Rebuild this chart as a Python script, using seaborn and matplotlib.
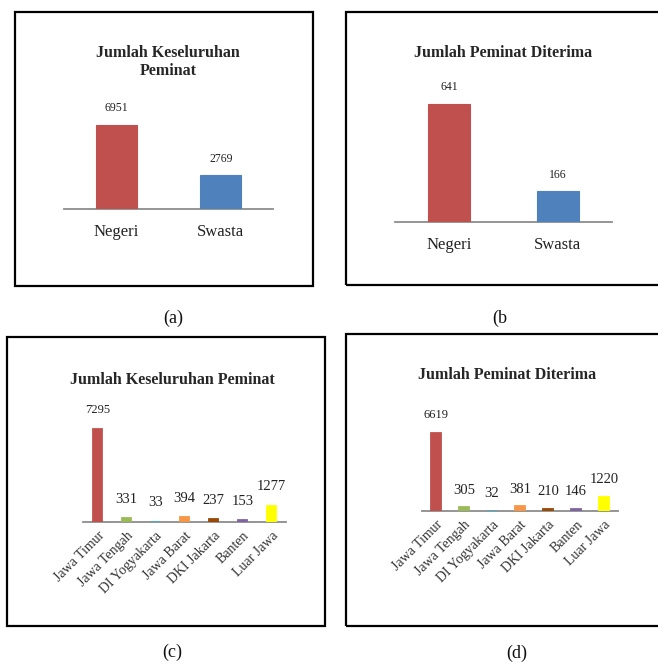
import matplotlib
matplotlib.use("Agg")
import matplotlib.pyplot as plt
from matplotlib.patches import Rectangle
import seaborn as sns

sns.set_theme(style="white")
plt.rcParams["font.family"] = ["Liberation Serif", "DejaVu Serif"]

# ---- data -------------------------------------------------------------
status_labels = ["Negeri", "Swasta"]
status_total = [6951, 2769]
status_accepted = [641, 166]
status_colors = ["#C0504D", "#4F81BD"]

region_labels = ["Jawa Timur", "Jawa Tengah", "DI Yogyakarta", "Jawa Barat",
                 "DKI Jakarta", "Banten", "Luar Jawa"]
region_total = [7295, 331, 33, 394, 237, 153, 1277]
region_accepted = [6619, 305, 32, 381, 210, 146, 1220]
region_colors = ["#C0504D", "#9BBB59", "#4BACC6", "#F79646",
                 "#984807", "#8064A2", "#FFFF00"]

title_total = "Jumlah Keseluruhan Peminat"
title_total_wrapped = "Jumlah Keseluruhan\nPeminat"
title_accepted = "Jumlah Peminat Diterima"
captions = ["(a)", "(b", "(c)", "(d)"]

# ---- figure -----------------------------------------------------------
W, H = 658, 668
fig = plt.figure(figsize=(W / 100, H / 100), dpi=100)
fig.patch.set_facecolor("white")


def px_axes(x0, y0, x1, y1):
    """Axes from pixel box (top-left origin)."""
    return fig.add_axes([x0 / W, 1 - y1 / H, (x1 - x0) / W, (y1 - y0) / H])


def frame(x0, y0, x1, y1):
    fig.patches.append(Rectangle((x0 / W, 1 - y1 / H), (x1 - x0) / W, (y1 - y0) / H,
                                 transform=fig.transFigure, fill=False,
                                 edgecolor="black", linewidth=1.6, zorder=0))


def ftext(x, y, s, **kw):
    fig.text(x / W, 1 - y / H, s, **kw)


def draw_bars(ax, labels, values, colors, width, ymax, label_offset, value_fs,
              edge_lw, rotate=False):
    sns.barplot(x=labels, y=values, hue=labels, palette=colors, width=width,
                legend=False, ax=ax, linewidth=0, saturation=1)
    # outline in the bar's own colour keeps the tiny bars visible
    for p in ax.patches:
        p.set_edgecolor(p.get_facecolor())
        p.set_linewidth(edge_lw)
        p.set_zorder(3)
    ax.set_xlim(-0.5, len(labels) - 0.5)
    ax.set_ylim(0, ymax)
    for side in ("top", "left", "right"):
        ax.spines[side].set_visible(False)
    ax.spines["bottom"].set_color("#8c8c8c")
    ax.spines["bottom"].set_linewidth(1.3)
    ax.spines["bottom"].set_zorder(1)
    ax.set_yticks([])
    ax.set_xlabel("")
    ax.set_ylabel("")
    ax.patch.set_alpha(0)
    for i, v in enumerate(values):
        fs = value_fs[0] if i == 0 else value_fs[1]
        ax.annotate(str(v), (i, v), xytext=(0, label_offset),
                    textcoords="offset points", ha="center", va="center",
                    fontsize=fs, color="#222222")
    if rotate:
        ax.set_xticks(range(len(labels)))
        ax.set_xticklabels(labels, rotation=45, ha="right",
                           rotation_mode="anchor", fontsize=10, color="#333333")
        ax.tick_params(axis="x", length=0, pad=5)
    else:
        ax.tick_params(axis="x", length=0, pad=11, labelsize=12,
                       labelcolor="#222222")


# (a) total applicants by school status
frame(15, 12, 313, 286)
ax_a = px_axes(64, 90, 273, 209)
draw_bars(ax_a, status_labels, status_total, status_colors, 0.39, 9810, 12,
          (8.5, 8.5), 0.8)
ftext(168, 62, title_total_wrapped, ha="center", va="center",
      fontsize=11.5, fontweight="bold", linespacing=1.2)

# (b) accepted applicants by school status
frame(346, 12, 680, 285)
ax_b = px_axes(395, 80, 612, 222)
draw_bars(ax_b, status_labels, status_accepted, status_colors, 0.39, 771, 12,
          (8.5, 8.5), 0.8)
ftext(503, 53, title_accepted, ha="center", va="center",
      fontsize=11.5, fontweight="bold")

# (c) total applicants by region
frame(7, 337, 325, 626)
ax_c = px_axes(83, 400, 286, 522)
draw_bars(ax_c, region_labels, region_total, region_colors, 0.33, 9570, 13.5,
          (9, 10.5), 1.3, rotate=True)
ftext(172, 380, title_total, ha="center", va="center",
      fontsize=11.5, fontweight="bold")

# (d) accepted applicants by region
frame(346, 334, 680, 626)
ax_d = px_axes(422, 400, 618, 511)
draw_bars(ax_d, region_labels, region_accepted, region_colors, 0.33, 9383, 12.5,
          (9, 10.5), 1.3, rotate=True)
ftext(507, 375, title_accepted, ha="center", va="center",
      fontsize=11.5, fontweight="bold")

# panel captions
for (cx, cy), cap in zip([(173, 318), (500, 318), (172, 652), (517, 653)], captions):
    ftext(cx, cy, cap, ha="center", va="center", fontsize=13, color="#111111")

fig.savefig("out.png", dpi=100, facecolor="white")
